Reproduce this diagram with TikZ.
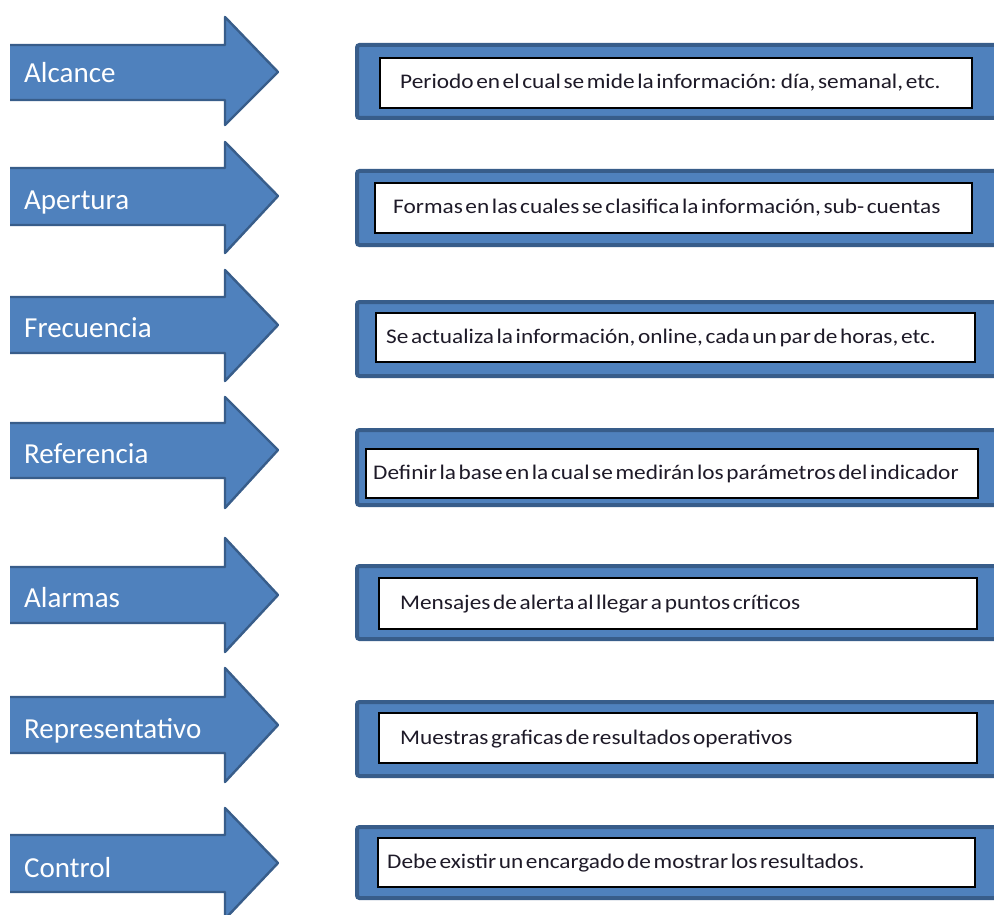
\documentclass[tikz,border=0pt]{standalone}
\usepackage{fontspec}
\setmainfont{Carlito}
\newfontfamily\cajafont[FakeStretch=1.12, WordSpace=0.5]{Carlito}

\definecolor{azul}{HTML}{4F81BD}
\definecolor{azulborde}{HTML}{385D8A}
\definecolor{tinta}{HTML}{1E1A28}

\tikzset{
  flechafondo/.style={fill=azul},
  flechaborde/.style={draw=azulborde, line width=2.4pt, line join=round},
  etiqueta/.style={anchor=base west, text=white, inner sep=0pt,
    font=\fontsize{29}{30}\selectfont},
  marco/.style={fill=azul, draw=azulborde, line width=4pt, rounded corners=2.5pt},
  recuadro/.style={fill=white, draw=black, line width=1.4pt},
  texto/.style={anchor=base west, text=tinta, inner sep=0pt,
    font=\cajafont\fontsize{20.8}{22}\selectfont},
}

% block arrow: name, shaft top, shaft bottom, head top, head bottom, tip y, label, label baseline
\newcommand\flecha[8]{%
  \fill[flechafondo] (10,#2) -- (225,#2) -- (225,#4) -- (278,#6) -- (225,#5)
    -- (225,#3) -- (10,#3) -- cycle;
  \draw[flechaborde] (10,#2) -- (225,#2) -- (225,#4) -- (278,#6) -- (225,#5)
    -- (225,#3) -- (10,#3);
  \node[etiqueta] (#1) at (24,#8) {#7};
}

% framed description: name, frame top, frame bottom, box left, box right, box top, box bottom, text x, text
\newcommand\caja[9]{%
  \draw[marco] (357,#2) rectangle (1010,#3);
  \draw[recuadro] (#4,#6) rectangle (#5,#7);
  \node[texto] (#1) at (#8,{(#6+#7)/2+6}) {#9};
}

\begin{document}
\begin{tikzpicture}[x=1pt, y=-1pt]
  \useasboundingbox (0,0) rectangle (994,915);
  \clip (0,0) rectangle (994,915);
  \fill[white] (0,0) rectangle (994,915);

  \flecha{alcance}{45}{100}{17}{125}{72}{Alcance}{83}
  \flecha{apertura}{168}{225}{142}{253}{196}{Apertura}{210}
  \flecha{frecuencia}{297}{353}{270}{381}{325}{Frecuencia}{337}
  \flecha{referencia}{423}{478}{397}{508}{450}{Referencia}{463}
  \flecha{alarmas}{567}{623}{538}{652}{595}{Alarmas}{607}
  \flecha{representativo}{697}{753}{668}{782}{725}{Representativo}{738}
  \flecha{control}{835}{892}{808}{919}{863}{Control}{877}

  \caja{dalcance}{45}{118}{380}{972}{58}{108}{400}{Periodo en el cual se mide la información: día, semanal, etc.}
  \caja{dapertura}{171}{245}{375}{972}{183}{233}{393}{Formas en las cuales se clasifica la información, sub- cuentas}
  \caja{dfrecuencia}{302}{376}{376}{975}{313}{362}{386}{Se actualiza la información, online, cada un par de horas, etc.}
  \caja{dreferencia}{430}{505}{366}{978}{449}{498}{373}{Definir la base en la cual se medirán los parámetros del indicador}
  \caja{dalarmas}{566}{639}{379}{977}{578}{629}{400}{Mensajes de alerta al llegar a puntos críticos}
  \caja{drepresentativo}{702}{776}{379}{977}{713}{763}{400}{Muestras graficas de resultados operativos}
  \caja{dcontrol}{827}{898}{378}{975}{838}{887}{387}{Debe existir un encargado de mostrar los resultados.}
\end{tikzpicture}
\end{document}
